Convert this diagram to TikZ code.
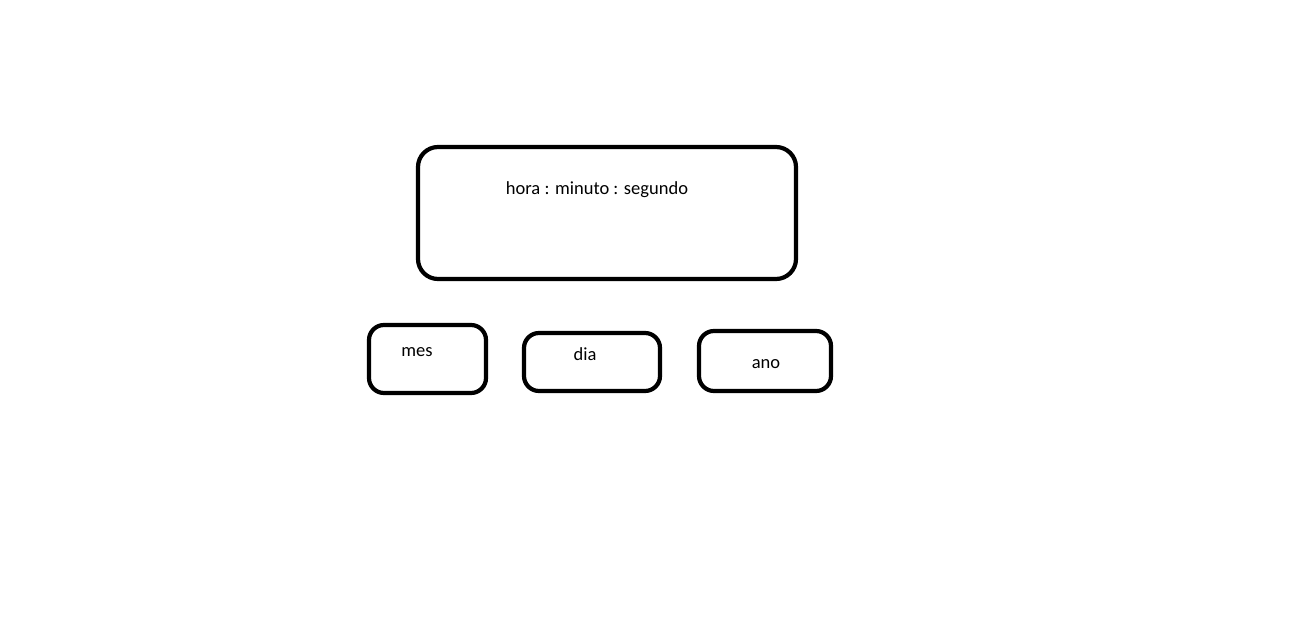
\documentclass[tikz,border=0pt]{standalone}
\usepackage{fontspec}
\setmainfont{Carlito}
\begin{document}
\begin{tikzpicture}[x=1bp,y=-1bp,
  box/.style={draw=black,line width=4.2bp,rounded corners=#1,inner sep=0pt,fill=none},
  lbl/.style={font=\fontsize{18.5bp}{22bp}\selectfont,anchor=base,inner sep=0pt}]
\useasboundingbox[fill=white] (0,0) rectangle (1297,622);
\node[box=20bp,minimum width=378bp,minimum height=132bp] (main) at (607,213) {};
\node[box=15bp,minimum width=117bp,minimum height=68bp] (mesbox) at (427.5,359) {};
\node[box=15bp,minimum width=136bp,minimum height=58bp] (diabox) at (592,362) {};
\node[box=15bp,minimum width=132bp,minimum height=60bp] (anobox) at (765,361) {};
\node[lbl] (hora) at (597,195) {hora : minuto : segundo};
\node[lbl] (mes) at (417,357) {mes};
\node[lbl] (dia) at (585,361) {dia};
\node[lbl] (ano) at (766,369) {ano};
\end{tikzpicture}
\end{document}
